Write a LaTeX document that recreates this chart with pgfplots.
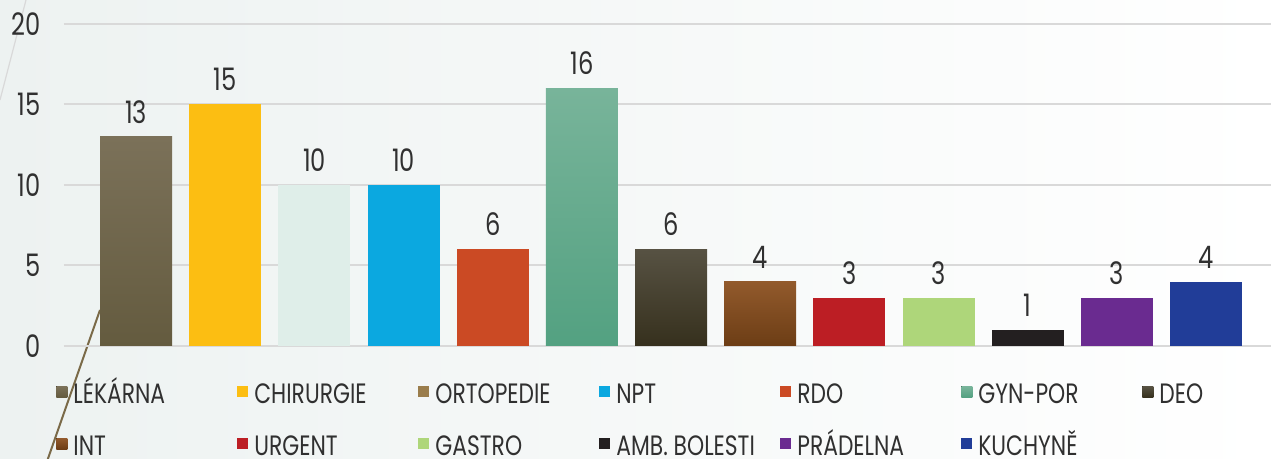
\documentclass[border=0pt]{standalone}
\usepackage{fontspec}
\setmainfont{Poppins}[FakeStretch=0.78]
\usepackage{pgfplots}
\pgfplotsset{compat=1.18}
\usetikzlibrary{backgrounds}

\definecolor{labelgray}{HTML}{303030}
\definecolor{gridgray}{HTML}{D9D9D9}
\definecolor{bgleft}{HTML}{EDF2F1}
\definecolor{lekTop}{HTML}{7B7159}
\definecolor{lekBot}{HTML}{645B3F}
\definecolor{chir}{HTML}{FCBE12}
\definecolor{orto}{HTML}{DFEEE9}
\definecolor{ortoleg}{HTML}{9A7D4C}
\definecolor{npt}{HTML}{0BA8E0}
\definecolor{rdo}{HTML}{CB4A24}
\definecolor{gynTop}{HTML}{78B49A}
\definecolor{gynBot}{HTML}{53A181}
\definecolor{deoTop}{HTML}{575243}
\definecolor{deoBot}{HTML}{36301D}
\definecolor{intTop}{HTML}{925A2C}
\definecolor{intBot}{HTML}{6C3D15}
\definecolor{urg}{HTML}{BC1E24}
\definecolor{gastro}{HTML}{AED67A}
\definecolor{amb}{HTML}{231F20}
\definecolor{prad}{HTML}{6A2B90}
\definecolor{kuch}{HTML}{213D98}
\definecolor{deco}{HTML}{7A6A48}

% fixed legend column width, same height for every cell
\newcommand{\legcell}[1]{\rule[-1pt]{0pt}{10.5pt}\makebox[82pt][l]{\smash{#1}}}

\begin{document}
\begin{tikzpicture}[font=\fontsize{14}{16}\selectfont]
\pgfplotsset{sq/.style={legend image code/.code={\fill[##1] (0pt,-1pt) rectangle (5.5pt,4.5pt);}}}
\begin{axis}[
    name=ax,
    scale only axis,
    width=603.5pt, height=161pt,
    xmin=-0.81, xmax=12.73,
    ymin=0, ymax=20,
    ytick={0,5,10,15,20},
    xtick=\empty,
    /pgf/number format/assume math mode=true,
    ymajorgrids,
    grid style={draw=gridgray, line width=1pt},
    axis line style={draw=none},
    tick style={draw=none},
    yticklabel style={text=labelgray, font=\fontsize{15.5}{17}\selectfont, xshift=-8.2pt},
    ybar, bar width=36pt, bar shift=0pt,
    nodes near coords,
    nodes near coords style={text=labelgray, font=\fontsize{15.5}{17}\selectfont, yshift=3.2pt},
    legend columns=7,
    legend cell align=left,
    legend style={at={(-0.00663,-0.1087)}, anchor=north west, draw=none, fill=none,
        inner sep=0pt, row sep=12pt, text=labelgray,
        nodes={inner sep=0pt, minimum height=14pt},
        /tikz/every odd column/.append style={column sep=3pt}},
]
\addplot[draw=none, top color=lekTop, bottom color=lekBot, sq] coordinates {(0,13)};
\addlegendentry{\legcell{LÉKÁRNA}}
\addplot[draw=none, fill=chir, sq] coordinates {(1,15)};
\addlegendentry{\legcell{CHIRURGIE}}
\addplot[draw=none, fill=orto, legend image code/.code={\fill[ortoleg] (0pt,-1pt) rectangle (5.5pt,4.5pt);}] coordinates {(2,10)};
\addlegendentry{\legcell{ORTOPEDIE}}
\addplot[draw=none, fill=npt, sq] coordinates {(3,10)};
\addlegendentry{\legcell{NPT}}
\addplot[draw=none, fill=rdo, sq] coordinates {(4,6)};
\addlegendentry{\legcell{RDO}}
\addplot[draw=none, top color=gynTop, bottom color=gynBot, sq] coordinates {(5,16)};
\addlegendentry{\legcell{GYN-POR}}
\addplot[draw=none, top color=deoTop, bottom color=deoBot, sq] coordinates {(6,6)};
\addlegendentry{\legcell{DEO}}
\addplot[draw=none, top color=intTop, bottom color=intBot, sq] coordinates {(7,4)};
\addlegendentry{\legcell{INT}}
\addplot[draw=none, fill=urg, sq] coordinates {(8,3)};
\addlegendentry{\legcell{URGENT}}
\addplot[draw=none, fill=gastro, sq] coordinates {(9,3)};
\addlegendentry{\legcell{GASTRO}}
\addplot[draw=none, fill=amb, sq] coordinates {(10,1)};
\addlegendentry{\legcell{AMB. BOLESTI}}
\addplot[draw=none, fill=prad, sq] coordinates {(11,3)};
\addlegendentry{\legcell{PRÁDELNA}}
\addplot[draw=none, fill=kuch, sq] coordinates {(12,4)};
\addlegendentry{\legcell{KUCHYNĚ}}
\end{axis}
\begin{pgfonlayer}{background}
  \fill[left color=bgleft, right color=white]
    ([xshift=-32pt,yshift=-56.5pt]ax.south west) rectangle ([yshift=12pt]ax.north east);
  \draw[deco, line width=1pt] ([xshift=18pt,yshift=18pt]ax.south west) -- ([xshift=-10pt,yshift=-62pt]ax.south west);
  \draw[gridgray, line width=0.6pt] ([xshift=-19pt,yshift=12pt]ax.north west) -- ([xshift=-32pt,yshift=-38pt]ax.north west);
\end{pgfonlayer}
\pgfresetboundingbox
\path ([xshift=-32pt,yshift=-56.5pt]ax.south west) rectangle ([yshift=12pt]ax.north east);
\end{tikzpicture}
\end{document}
